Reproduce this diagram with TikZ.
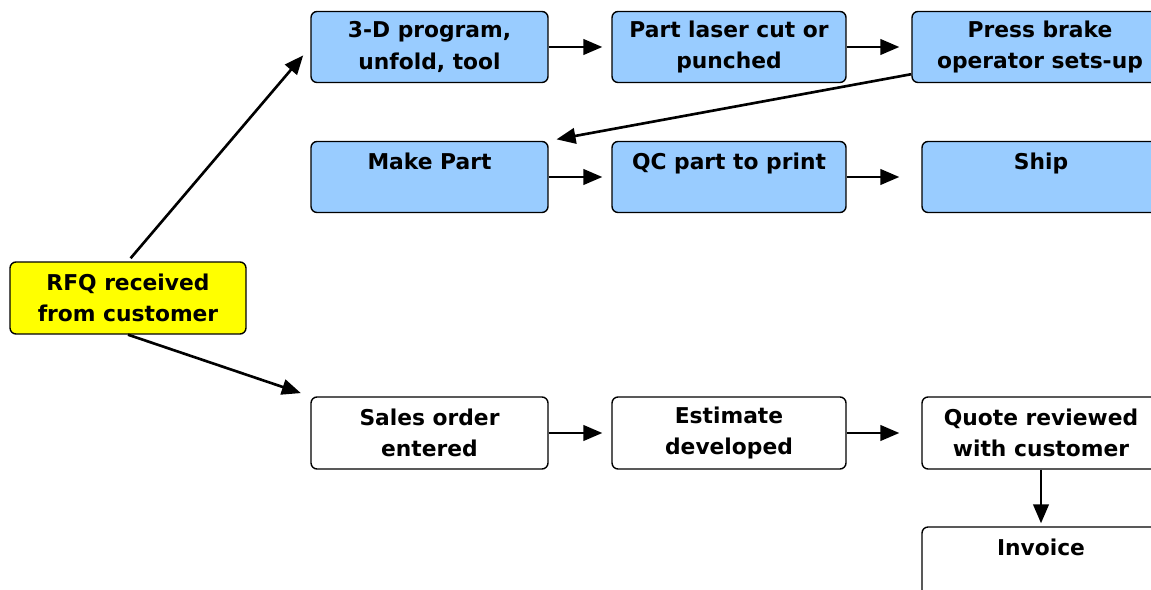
\documentclass[tikz,border=0pt]{standalone}
\usepackage{fontspec}
\setmainfont{DejaVu Sans}
\usetikzlibrary{arrows.meta}
\definecolor{boxblue}{HTML}{99CCFF}
\definecolor{boxyellow}{HTML}{FFFF00}
\tikzset{
  flowarrow/.style={-{Triangle[length=3.8mm, width=3.1mm]}, line width=1.5pt},
  stepbox/.style={draw, rounded corners=1.2mm, line width=0.8pt, fill=boxblue, minimum width=4.74cm, minimum height=1.42cm, align=center, inner sep=0pt},
  salesbox/.style={draw, rounded corners=1.2mm, line width=0.8pt, fill=white, minimum width=4.74cm, minimum height=1.44cm, align=center, inner sep=0pt},
  startbox/.style={draw, rounded corners=1.2mm, line width=0.8pt, fill=boxyellow, minimum width=4.72cm, minimum height=1.44cm, align=center, inner sep=0pt}
}

\begin{document}
\begin{tikzpicture}[x=0.02cm, y=-0.02cm, every node/.style={font=\bfseries\fontsize{12.4}{18}\selectfont}]
      \useasboundingbox (0,0) rectangle (1151,590);
      \clip (0,0) rectangle (1151,590);
      % start
      \node[startbox] (rfq) at (128,298) {RFQ received\\from customer};
      % upper rows
      \node[stepbox] (prog) at (429.5,47) {3-D program,\\unfold, tool};
      \node[stepbox, minimum width=4.68cm] (laser) at (729,47) {Part laser cut or\\punched};
      \node[stepbox, minimum width=5.12cm] (brake) at (1040,47) {Press brake\\operator sets-up};
      \node[stepbox] (make) at (429.5,177) {Make Part\\~};
      \node[stepbox, minimum width=4.68cm] (qc) at (729,177) {QC part to print\\~};
      \node[stepbox, minimum width=4.76cm] (ship) at (1041,177) {Ship\\~};
      % lower row
      \node[salesbox] (sales) at (429.5,433) {Sales order\\entered};
      \node[salesbox, minimum width=4.68cm] (est) at (729,433) {Estimate\\developed};
      \node[salesbox, minimum width=4.76cm] (quote) at (1041,433) {Quote reviewed\\with customer};
      \node[salesbox, minimum width=4.76cm] (inv) at (1041,563) {Invoice\\~};
      % arrows
      \draw[flowarrow, shorten <=0.08cm, shorten >=0.22cm] (rfq.north) -- (prog.west);
      \draw[flowarrow, shorten >=0.2cm] (rfq.south) -- (sales.north west);
      \draw[flowarrow, shorten >=0.18cm] (prog) -- (laser);
      \draw[flowarrow, shorten >=0.24cm] (laser) -- (brake);
      \draw[flowarrow, shorten >=0.16cm] ([yshift=0.18cm]brake.south west) -- (make.north east);
      \draw[flowarrow, shorten >=0.18cm] (make) -- (qc);
      \draw[flowarrow, shorten >=0.44cm] (qc) -- (ship);
      \draw[flowarrow, shorten >=0.18cm] (sales) -- (est);
      \draw[flowarrow, shorten >=0.44cm] (est) -- (quote);
      \draw[flowarrow, shorten >=0.06cm] (quote) -- (inv);
    \end{tikzpicture}
\end{document}
